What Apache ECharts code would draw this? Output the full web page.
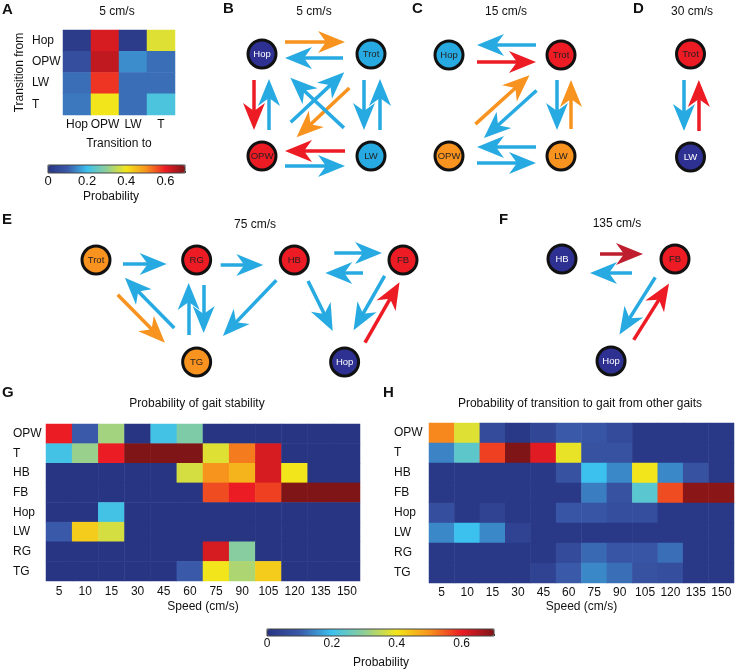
<!DOCTYPE html>
<html><head><meta charset="utf-8">
<script src="https://cdn.jsdelivr.net/npm/echarts@6/dist/echarts.min.js"></script>
<style>html,body{margin:0;padding:0;background:#fff}#c{width:737px;height:672px}</style>
</head><body><div id="c"></div>
<script>
// ================= DATA =================
// Panel A: transition probabilities at 5 cm/s (rows: from, cols: to)
const aGaits = ['Hop', 'OPW', 'LW', 'T'];
const aFromHop = [0.02, 0.62, 0.02, 0.38];
const aFromOPW = [0.07, 0.64, 0.15, 0.12];
const aFromLW  = [0.12, 0.58, 0.12, 0.12];
const aFromT   = [0.13, 0.40, 0.12, 0.22];

// Panels G/H
const speeds = ['5', '10', '15', '30', '45', '60', '75', '90', '105', '120', '135', '150'];
const gaitRows = ['OPW', 'T', 'HB', 'FB', 'Hop', 'LW', 'RG', 'TG'];

const stabOPW = [0.60, 0.10, 0.32, 0, 0.21, 0.28, 0, 0, 0, 0, 0, 0];
const stabT   = [0.21, 0.31, 0.60, 0.70, 0.70, 0.70, 0.38, 0.52, 0.62, 0, 0, 0];
const stabHB  = [0, 0, 0, 0, 0, 0.37, 0.50, 0.46, 0.62, 0.40, 0, 0];
const stabFB  = [0, 0, 0, 0, 0, 0, 0.56, 0.60, 0.57, 0.70, 0.70, 0.70];
const stabHop = [0, 0, 0.21, 0, 0, 0, 0, 0, 0, 0, 0, 0];
const stabLW  = [0.10, 0.43, 0.37, 0, 0, 0, 0, 0, 0, 0, 0, 0];
const stabRG  = [0, 0, 0, 0, 0, 0, 0.62, 0.29, 0, 0, 0, 0];
const stabTG  = [0, 0, 0, 0, 0, 0.10, 0.40, 0.33, 0.43, 0, 0, 0];

const transOPW = [0.51, 0.38, 0.06, 0.01, 0.05, 0.10, 0.09, 0.06, 0.01, 0.01, 0.01, 0.01];
const transT   = [0.14, 0.24, 0.57, 0.70, 0.61, 0.39, 0.08, 0.08, 0.01, 0.01, 0.01, 0.01];
const transHB  = [0.01, 0.01, 0.01, 0.01, 0.01, 0.08, 0.20, 0.145, 0.40, 0.145, 0.08, 0.01];
const transFB  = [0.01, 0.01, 0.01, 0.01, 0.01, 0.01, 0.135, 0.08, 0.235, 0.56, 0.69, 0.69];
const transHop = [0.07, 0.01, 0.04, 0.01, 0.01, 0.09, 0.09, 0.07, 0.07, 0.01, 0.01, 0.01];
const transLW  = [0.145, 0.20, 0.145, 0.04, 0.01, 0.01, 0.01, 0.01, 0.01, 0.01, 0.01, 0.01];
const transRG  = [0.01, 0.01, 0.01, 0.01, 0.01, 0.06, 0.115, 0.09, 0.09, 0.12, 0.01, 0.01];
const transTG  = [0.01, 0.01, 0.01, 0.01, 0.04, 0.10, 0.145, 0.12, 0.08, 0.07, 0.01, 0.01];

const colorbarTicks = [0, 0.2, 0.4, 0.6];

// Network panels: nodes, node probability level (1 low .. 5 very high), edges [from, to, level]
const bNodes = ['Hop', 'Trot', 'OPW', 'LW'];
const bNodeLevel = [1, 2, 4, 2];
const bEdges = [['Hop','Trot',3],['Trot','Hop',2],['Hop','OPW',4],['OPW','Hop',2],['Trot','LW',2],['LW','Trot',2],
                ['OPW','LW',2],['LW','OPW',4],['OPW','Trot',2],['Trot','OPW',3],['LW','Hop',2]];

const cNodes = ['Hop', 'Trot', 'OPW', 'LW'];
const cNodeLevel = [2, 4, 3, 3];
const cEdges = [['Trot','Hop',2],['Hop','Trot',4],['OPW','Trot',3],['Trot','OPW',2],['Trot','LW',2],['LW','Trot',3],
                ['LW','OPW',2],['OPW','LW',2]];

const dNodes = ['Trot', 'LW'];
const dNodeLevel = [4, 1];
const dEdges = [['Trot','LW',2],['LW','Trot',4]];

const eNodes = ['Trot', 'RG', 'HB', 'FB', 'TG', 'Hop'];
const eNodeLevel = [3, 4, 4, 4, 3, 1];
const eEdges = [['Trot','RG',2],['RG','HB',2],['HB','FB',2],['FB','HB',2],['TG','Trot',2],['Trot','TG',3],
                ['TG','RG',2],['RG','TG',2],['HB','TG',2],['HB','Hop',2],['FB','Hop',2],['Hop','FB',4]];

const fNodes = ['HB', 'FB', 'Hop'];
const fNodeLevel = [1, 4, 1];
const fEdges = [['HB','FB',5],['FB','HB',2],['FB','Hop',2],['Hop','FB',4]];

// ================= STYLE / LAYOUT =================
const FONT = 'Liberation Sans, Arial, Helvetica, sans-serif';
const levelColor = {1: '#2e3192', 2: '#27aae1', 3: '#f7931e', 4: '#ed1c24', 5: '#be1e2d'};
const jet = ['#283583', '#3a59a9', '#3cc1ee', '#8fce97', '#f3e51b', '#f7941d', '#ec1c24', '#7f1517'];
const HEAD_W = 22, HEAD_L = 27, LINE_W = 3.5, NODE = 28;
const HEAD_PATH = 'path://M0,0L11,27L0,19L-11,27Z';

// node layout (abstract units) and arrow geometry [offset px (right of travel), gap at start, gap at tip]
const netLayout = {
  B: {grid: {left: 262, top: 54, width: 109, height: 102}, x: [0, 1], y: [0, 1],
      pos: {Hop: [0, 0], Trot: [1, 0], OPW: [0, 1], LW: [1, 1]},
      geom: [[-12,23,26],[-4,28,23],[8,26,26],[7,26,25],[7,26,26],[9,26,25],[10,23,26],[5,26,23],[-5,44,32],[-10,39,38],[2,39,37]]},
  C: {grid: {left: 449, top: 55, width: 112, height: 101}, x: [0, 1], y: [0, 1],
      pos: {Hop: [0, 0], Trot: [1, 0], OPW: [0, 1], LW: [1, 1]},
      geom: [[10,25,28],[7,28,25],[-6,41,37],[-10,42,38],[4,25,26],[10,27,25],[9,25,28],[7,28,25]]},
  D: {grid: {left: 644, top: 54, width: 100, height: 103}, x: [-0.5, 0.5], y: [0, 1],
      pos: {Trot: [0, 0], LW: [0, 1]},
      geom: [[7,26,26],[9,26,26]]},
  E: {grid: {left: 96, top: 260, width: 307, height: 102}, x: [0, 3.05], y: [0, 1],
      pos: {Trot: [0, 0], RG: [1, 0], HB: [1.97, 0], FB: [3.05, 0], TG: [1, 1], Hop: [2.47, 1]},
      geom: [[4,27,30],[5,24,31],[-7,40,21],[-13,40,31],[8,40,33],[9,40,36],[-8,27,23],[-7,25,29],[-1,27,37],[-3,25,33],[8,23,32],[8,27,21]]},
  F: {grid: {left: 562, top: 259, width: 113, height: 102}, x: [0, 1], y: [0, 1],
      pos: {HB: [0, 0], FB: [1, 0], Hop: [0.434, 1]},
      geom: [[-5,38,32],[-14,43,28],[7,26,27],[8,30,24]]}
};

// ================= BUILD =================
function matrix(rows) {
  const out = [];
  rows.forEach((r, yi) => r.forEach((v, xi) => out.push([xi, yi, v])));
  return out;
}

const grids = [
  {left: 63, top: 30, width: 112, height: 85},      // 0 A
  {left: 46, top: 424, width: 314, height: 157},    // 1 G
  {left: 429, top: 423, width: 305, height: 160},   // 2 H
  {left: 48, top: 165, width: 137, height: 8, show: true, borderColor: '#444', borderWidth: 1, backgroundColor: 'transparent', z: 10}, // 3 A colorbar
  {left: 267, top: 629, width: 227, height: 7, show: true, borderColor: '#444', borderWidth: 1, backgroundColor: 'transparent', z: 10} // 4 bottom colorbar
];
const xAxes = [], yAxes = [], series = [];

function catLabel(margin, extra) {
  return Object.assign({fontSize: 12, fontFamily: FONT, color: '#111', margin: margin, interval: 0}, extra || {});
}
const hidden = {axisLine: {show: false}, axisTick: {show: false}, splitLine: {show: false}, splitArea: {show: false}};
const nameStyle = {fontSize: 12, fontFamily: FONT, color: '#111'};

// A
xAxes.push(Object.assign({gridIndex: 0, type: 'category', data: aGaits, axisLabel: catLabel(4),
  name: 'Transition to', nameLocation: 'middle', nameGap: 23, nameTextStyle: nameStyle}, hidden));
yAxes.push(Object.assign({gridIndex: 0, type: 'category', data: aGaits, inverse: true, axisLabel: catLabel(31, {align: 'left'}),
  name: 'Transition from', nameLocation: 'middle', nameGap: 37, nameTextStyle: nameStyle}, hidden));
// G
xAxes.push(Object.assign({gridIndex: 1, type: 'category', data: speeds, axisLabel: catLabel(5),
  name: 'Speed (cm/s)', nameLocation: 'middle', nameGap: 20, nameTextStyle: nameStyle}, hidden));
yAxes.push(Object.assign({gridIndex: 1, type: 'category', data: gaitRows, inverse: true, axisLabel: catLabel(33, {align: 'left'})}, hidden));
// H
xAxes.push(Object.assign({gridIndex: 2, type: 'category', data: speeds, axisLabel: catLabel(4),
  name: 'Speed (cm/s)', nameLocation: 'middle', nameGap: 18, nameTextStyle: nameStyle}, hidden));
yAxes.push(Object.assign({gridIndex: 2, type: 'category', data: gaitRows, inverse: true, axisLabel: catLabel(35, {align: 'left'})}, hidden));
// colorbar axes
function cbAxis(gi, fs) {
  return {gridIndex: gi, type: 'value', min: 0, max: 0.7, interval: 0.1,
    axisLine: {show: false}, splitLine: {show: false},
    axisTick: {show: true, inside: true, length: 2, lineStyle: {color: '#333', width: 1}},
    axisLabel: {fontSize: fs, fontFamily: FONT, color: '#111', margin: 2,
      formatter: v => colorbarTicks.some(t => Math.abs(t - v) < 1e-6) ? String(+v.toFixed(1)) : ''}};
}
xAxes.push(cbAxis(3, 13));
yAxes.push({gridIndex: 3, type: 'value', show: false});
xAxes.push(cbAxis(4, 12));
yAxes.push({gridIndex: 4, type: 'value', show: false});

const heatCommon = {type: 'heatmap', emphasis: {disabled: true}, itemStyle: {borderWidth: 0}, silent: true, animation: false};
series.push(Object.assign({}, heatCommon, {name: 'A', xAxisIndex: 0, yAxisIndex: 0,
  data: matrix([aFromHop, aFromOPW, aFromLW, aFromT])}));
series.push(Object.assign({}, heatCommon, {name: 'G', xAxisIndex: 1, yAxisIndex: 1,
  data: matrix([stabOPW, stabT, stabHB, stabFB, stabHop, stabLW, stabRG, stabTG])}));
series.push(Object.assign({}, heatCommon, {name: 'H', xAxisIndex: 2, yAxisIndex: 2,
  data: matrix([transOPW, transT, transHB, transFB, transHop, transLW, transRG, transTG])}));

function addNet(key, nodes, levels, edges) {
  const L = netLayout[key];
  const gi = grids.length;
  grids.push(L.grid);
  xAxes.push({gridIndex: gi, type: 'value', min: L.x[0], max: L.x[1], show: false});
  yAxes.push({gridIndex: gi, type: 'value', min: L.y[0], max: L.y[1], inverse: true, show: false});
  const ai = xAxes.length - 1;
  const sx = L.grid.width / (L.x[1] - L.x[0]);
  const sy = L.grid.height / (L.y[1] - L.y[0]);
  const toPx = p => [(p[0] - L.x[0]) * sx, (p[1] - L.y[0]) * sy];
  const toU = q => [q[0] / sx + L.x[0], q[1] / sy + L.y[0]];
  const lineData = [], headData = [];
  edges.forEach((e, i) => {
    const g = L.geom[i];
    const a = toPx(L.pos[e[0]]), b = toPx(L.pos[e[1]]);
    const dx = b[0] - a[0], dy = b[1] - a[1], len = Math.hypot(dx, dy);
    const ux = dx / len, uy = dy / len, nx = -uy, ny = ux;
    const at = d => toU([a[0] + ux * d + nx * g[0], a[1] + uy * d + ny * g[0]]);
    const tip = len - g[2];
    const color = levelColor[e[2]];
    lineData.push({coords: [at(g[1]), at(tip - 16)], lineStyle: {color: color}});
    headData.push({value: at(tip - HEAD_L / 2), symbolRotate: Math.atan2(-uy, ux) * 180 / Math.PI - 90,
      itemStyle: {color: color}});
  });
  series.push({type: 'lines', coordinateSystem: 'cartesian2d', xAxisIndex: ai, yAxisIndex: ai, clip: false, silent: true,
    symbol: ['none', 'none'], z: 3,
    lineStyle: {width: LINE_W, opacity: 1, curveness: 0}, emphasis: {disabled: true}, data: lineData});
  series.push({type: 'scatter', xAxisIndex: ai, yAxisIndex: ai, clip: false, silent: true, z: 3,
    symbol: HEAD_PATH, symbolSize: [HEAD_W, HEAD_L], emphasis: {disabled: true},
    itemStyle: {opacity: 1}, data: headData});
  series.push({type: 'scatter', xAxisIndex: ai, yAxisIndex: ai, clip: false, silent: true, z: 4,
    symbol: 'circle', symbolSize: NODE, emphasis: {disabled: true},
    itemStyle: {borderColor: '#111', borderWidth: 3, opacity: 1},
    label: {show: true, position: 'inside', formatter: '{b}', fontSize: 9.5, fontFamily: FONT},
    data: nodes.map((n, i) => ({name: n, value: L.pos[n],
      itemStyle: {color: levelColor[levels[i]]},
      label: {color: levels[i] === 1 ? '#ffffff' : '#231f20'}}))});
}
addNet('B', bNodes, bNodeLevel, bEdges);
addNet('C', cNodes, cNodeLevel, cEdges);
addNet('D', dNodes, dNodeLevel, dEdges);
addNet('E', eNodes, eNodeLevel, eEdges);
addNet('F', fNodes, fNodeLevel, fEdges);

// free texts: [text, x, y, align, font]
const texts = [
  ['A', 2, 10, 'left', 'bold 15px ' + FONT],
  ['B', 223, 9, 'left', 'bold 15px ' + FONT],
  ['C', 412, 9, 'left', 'bold 15px ' + FONT],
  ['D', 633, 9, 'left', 'bold 15px ' + FONT],
  ['E', 2, 220, 'left', 'bold 15px ' + FONT],
  ['F', 499, 220, 'left', 'bold 15px ' + FONT],
  ['G', 2, 393, 'left', 'bold 15px ' + FONT],
  ['H', 383, 393, 'left', 'bold 15px ' + FONT],
  ['5 cm/s', 117, 12, 'center', '12px ' + FONT],
  ['5 cm/s', 314, 12, 'center', '12px ' + FONT],
  ['15 cm/s', 506, 12, 'center', '12px ' + FONT],
  ['30 cm/s', 692, 12, 'center', '12px ' + FONT],
  ['75 cm/s', 255, 225, 'center', '12px ' + FONT],
  ['135 cm/s', 617, 224, 'center', '12px ' + FONT],
  ['Probability of gait stability', 197, 404, 'center', '12px ' + FONT],
  ['Probability of transition to gait from other gaits', 580, 404, 'center', '12px ' + FONT],
  ['Probability', 111, 197, 'center', '12px ' + FONT],
  ['Probability', 381, 663, 'center', '12px ' + FONT]
];

const option = {
  backgroundColor: '#ffffff',
  animation: false,
  grid: grids,
  xAxis: xAxes,
  yAxis: yAxes,
  visualMap: [
    {type: 'continuous', min: 0, max: 0.7, seriesIndex: [0], orient: 'horizontal', left: 48, top: 165,
     itemWidth: 8, itemHeight: 137, calculable: false, padding: 0, hoverLink: false, inRange: {color: jet}},
    {type: 'continuous', min: 0, max: 0.7, seriesIndex: [1, 2], orient: 'horizontal', left: 267, top: 629,
     itemWidth: 7, itemHeight: 227, calculable: false, padding: 0, hoverLink: false, inRange: {color: jet}}
  ],
  graphic: texts.map(t => ({type: 'text', x: t[1], y: t[2], silent: true,
    style: {text: t[0], font: t[4], fill: '#111', textAlign: t[3], textVerticalAlign: 'middle'}})),
  series: series
};

const chart = echarts.init(document.getElementById('c'), null, {renderer: 'canvas'});
chart.setOption(option);
</script>
</body></html>
